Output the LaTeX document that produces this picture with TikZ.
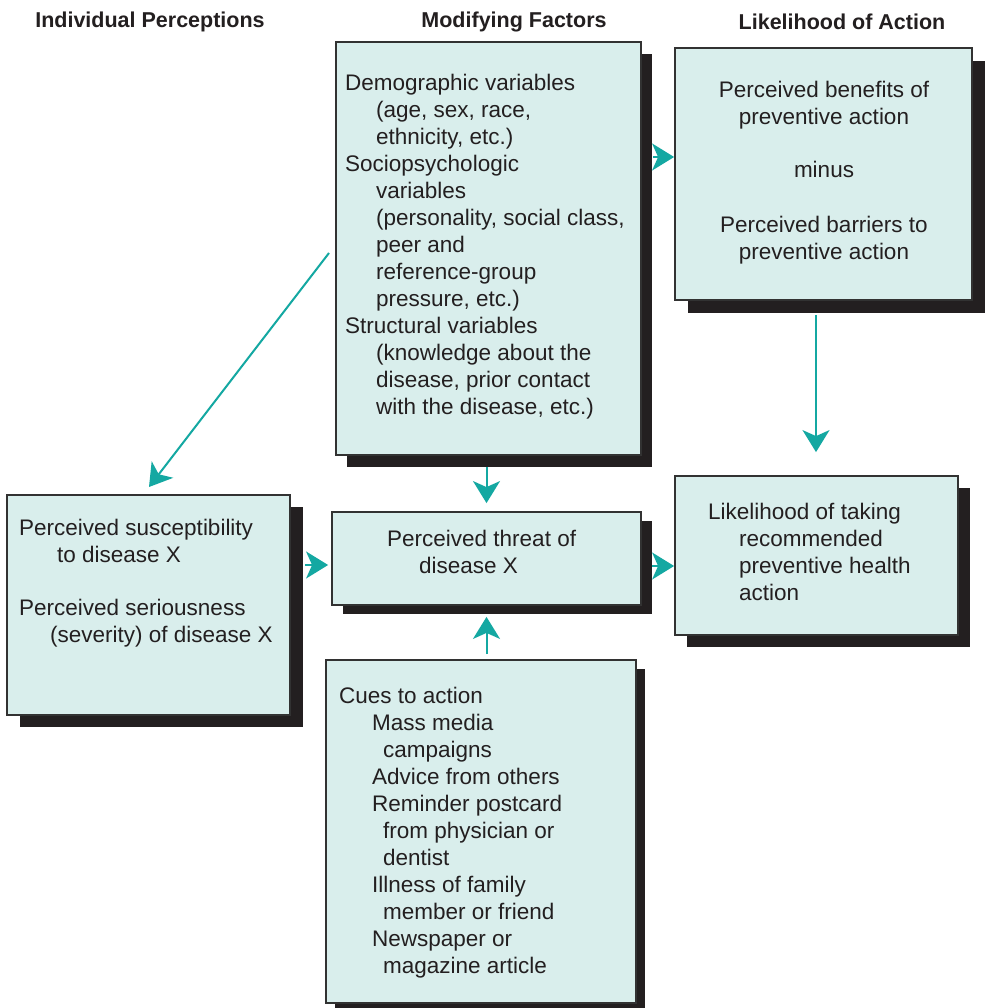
\documentclass[tikz,border=0pt]{standalone}
\usepackage{fontspec}
\setmainfont{Liberation Sans}
\usetikzlibrary{arrows.meta,shadows}
\definecolor{boxfill}{RGB}{217,238,236}
\definecolor{boxline}{RGB}{50,50,50}
\definecolor{shade}{RGB}{35,31,32}
\definecolor{tealc}{RGB}{20,168,162}
\definecolor{ink}{RGB}{35,31,32}
\begin{document}
\begin{tikzpicture}[x=1pt,y=-1pt,
  box/.style={draw=boxline, line width=1.8pt, fill=boxfill, inner sep=0pt, rectangle},
  sh/.style 2 args={drop shadow={shadow xshift=#1,shadow yshift=-#2,fill=shade,opacity=1}},
  txt/.style={inner sep=0pt, anchor=north west, align=left, text=ink, font=\fontsize{22.5}{27}\selectfont},
  txtc/.style={inner sep=0pt, anchor=north, align=center, text=ink, font=\fontsize{22.5}{27}\selectfont},
  head/.style={inner sep=0pt, anchor=base, text=ink, font=\fontsize{21.5}{26}\selectfont\bfseries},
  arr/.style={draw=tealc, line width=2pt, -{Stealth[length=22pt,width=27pt,inset=6pt]}}
]
\path[use as bounding box, fill=white] (0,0) rectangle (986,1008);

% headings
\node[head] (h1) at (150,28) {Individual Perceptions};
\node[head] (h2) at (514,28) {Modifying Factors};
\node[head] (h3) at (842,30) {Likelihood of Action};

% boxes
\node[box, sh={11pt}{12pt}, minimum width=305pt, minimum height=413pt] (mod) at (488.5,248.5) {};
\node[box, sh={13pt}{13pt}, minimum width=297pt, minimum height=252pt] (ben) at (823.5,174) {};
\node[box, sh={13pt}{12pt}, minimum width=283pt, minimum height=220pt] (ind) at (148.5,605) {};
\node[box, sh={11pt}{9pt}, minimum width=309pt, minimum height=93pt] (thr) at (486.5,558.5) {};
\node[box, sh={12pt}{12pt}, minimum width=283pt, minimum height=159pt] (lik) at (816.5,555.5) {};
\node[box, sh={9pt}{9pt}, minimum width=310pt, minimum height=343pt] (cue) at (481,831.5) {};

% texts
\node[txt] (modt) at (345,71.1) {\strut Demographic variables\\
\hspace*{31pt}(age, sex, race,\\
\hspace*{31pt}ethnicity, etc.)\\
Sociopsychologic\\
\hspace*{31pt}variables\\
\hspace*{31pt}(personality, social class,\\
\hspace*{31pt}peer and\\
\hspace*{31pt}reference-group\\
\hspace*{31pt}pressure, etc.)\\
Structural variables\\
\hspace*{31pt}(knowledge about the\\
\hspace*{31pt}disease, prior contact\\
\hspace*{31pt}with the disease, etc.)};

\node[txtc] (bent) at (824,78.1) {\strut Perceived benefits of\\
preventive action\\[26pt]
minus\\[28pt]
Perceived barriers to\\
preventive action};

\node[txt] (indt) at (19,516.1) {\strut Perceived susceptibility\\
\hspace*{38pt}to disease X\\[26pt]
Perceived seriousness\\
\hspace*{31pt}(severity) of disease X};

\node[txt] (thrt) at (387,527.1) {\strut Perceived threat of\\
\hspace*{32pt}disease X};

\node[txt] (likt) at (708,500.1) {\strut Likelihood of taking\\
\hspace*{31pt}recommended\\
\hspace*{31pt}preventive health\\
\hspace*{31pt}action};

\node[txt] (cuet) at (339,684.1) {\strut Cues to action\\
\hspace*{33pt}Mass media\\
\hspace*{44pt}campaigns\\
\hspace*{33pt}Advice from others\\
\hspace*{33pt}Reminder postcard\\
\hspace*{44pt}from physician or\\
\hspace*{44pt}dentist\\
\hspace*{33pt}Illness of family\\
\hspace*{44pt}member or friend\\
\hspace*{33pt}Newspaper or\\
\hspace*{44pt}magazine article};

% arrows
\coordinate (a1y) at (0,157);
\draw[arr, shorten <=11pt] (mod.east |- a1y) -- (ben.west |- a1y);
\coordinate (a2x) at (816,0);
\draw[arr, shorten <=14pt, shorten >=23pt] (a2x |- ben.south) -- (a2x |- lik.north);
\draw[arr, shorten <=11pt, shorten >=8pt] (thr.north |- mod.south) -- (thr.north);
\draw[arr, shorten <=5pt, shorten >=11pt] (thr.south |- cue.north) -- (thr.south);
\coordinate (a5y) at (0,565);
\draw[arr, shorten <=14pt, shorten >=3pt] (ind.east |- a5y) -- (thr.west |- a5y);
\coordinate (a6y) at (0,566);
\draw[arr, shorten <=10pt] (thr.east |- a6y) -- (lik.west |- a6y);
\coordinate (a7s) at (329,253);
\coordinate (a7e) at (149,487);
\draw[arr] (a7s) -- (a7e);
\end{tikzpicture}
\end{document}
